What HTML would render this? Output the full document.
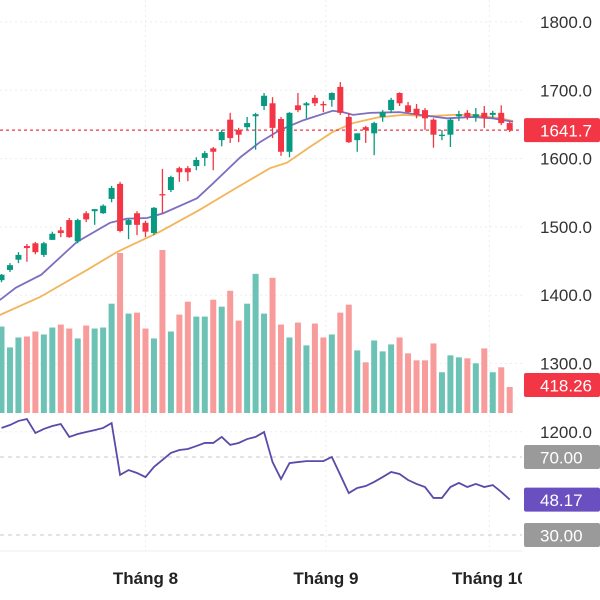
<!DOCTYPE html>
<html><head><meta charset="utf-8">
<style>
html,body{margin:0;padding:0;background:#fff;width:600px;height:600px;overflow:hidden}
svg{display:block;font-family:"Liberation Sans",sans-serif}
</style></head>
<body>
<svg id="chart" width="600" height="600">
  <defs><clipPath id="plotclip"><rect x="0" y="0" width="522" height="600"/></clipPath></defs>
  <g id="grid"></g>
  <g id="vol" clip-path="url(#plotclip)"></g>
  <g id="ma" clip-path="url(#plotclip)"></g>
  <g id="candles" clip-path="url(#plotclip)"></g>
  <g id="rsi" clip-path="url(#plotclip)"></g>
  <g id="axes"></g>
</svg>
<script>
const opens=[1422,1437,1452,1472,1476,1459,1481,1495,1510,1479,1520,1523,1520,1541,1563,1503,1520,1506,1491,1548,1554,1586,1586,1589,1601,1615,1627,1657,1642,1646,1662,1677,1681,1658,1610,1678,1678,1689,1680,1686,1705,1661,1627,1646,1637,1661,1671,1696,1678,1673,1671,1657,1633,1635,1662,1667,1661,1667,1664,1667,1652];
const closes=[1430,1444,1459,1469,1463,1476,1490,1491,1485,1510,1511,1526,1531,1557,1494,1510,1503,1493,1528,1547,1573,1580,1580,1598,1608,1610,1639,1630,1635,1652,1665,1692,1645,1610,1667,1671,1681,1681,1678,1696,1667,1624,1637,1642,1652,1668,1686,1681,1668,1664,1659,1635,1635,1657,1665,1661,1665,1659,1667,1652,1641.7];
const highs=[1431,1447,1463,1475,1478,1478,1493,1500,1513,1512,1523,1526,1533,1560,1566,1512,1523,1509,1529,1585,1575,1588,1589,1602,1611,1617,1642,1667,1645,1661,1667,1696,1690,1661,1668,1696,1683,1693,1684,1697,1712,1667,1637,1648,1654,1671,1689,1697,1683,1680,1674,1659,1642,1659,1670,1671,1674,1677,1670,1678,1655];
const lows=[1419,1434,1447,1449,1460,1456,1481,1485,1484,1476,1507,1503,1519,1536,1492,1482,1488,1485,1488,1520,1551,1566,1567,1583,1589,1583,1618,1623,1624,1642,1613,1671,1630,1604,1602,1668,1659,1677,1668,1676,1664,1623,1610,1623,1605,1654,1667,1677,1667,1659,1642,1616,1627,1617,1655,1657,1654,1645,1659,1649,1639];
const volumes=[1392,1056,1216,1232,1312,1264,1376,1424,1360,1200,1408,1360,1376,1760,2576,1600,1616,1360,1200,2624,1312,1584,1792,1552,1552,1824,1712,1968,1488,1760,2240,1600,2176,1424,1216,1456,1088,1440,1216,1264,1616,1744,1008,816,1168,992,1104,1216,960,848,848,1120,656,928,896,880,800,1040,656,736,418.26];
const rsiValues=[84.9,86.4,88.5,89.5,82.3,84.4,85.9,86.9,80.3,81.8,82.8,83.8,84.9,87.4,60.8,63.3,61.8,59.7,64.9,68.5,72.1,73.6,74.1,75.6,77.2,77.2,80.3,76.2,77.2,79.2,80.3,82.8,67.4,58.7,66.9,67.4,67.9,67.9,67.9,70.0,60.8,51.5,54.1,55.1,57.2,59.7,62.3,61.3,58.2,56.2,54.6,49.0,49.0,54.6,56.7,54.6,56.2,54.6,55.6,52.1,48.17];
const maFastIdx=[-0.2,1.7,4.7,8.9,12.8,14.8,17.2,19.1,23.1,25,28.2,30.5,32.9,35.6,39.1,40.3,41.5,43.5,47,49.4,52.6,55.7,58,60.4];
const maFastVal=[1393,1411,1430,1478,1506,1512,1513,1520,1542,1564,1602,1624,1642,1656,1670,1668,1664,1667,1668,1664,1659,1661,1659,1654];
const maSlowIdx=[-0.2,4.5,10.1,13.6,18.7,23.4,27.3,31.7,33.7,36.4,39.1,41.5,44.3,47.4,50.2,53.3,55.7,58.9,60.4];
const maSlowVal=[1371,1397,1437,1463,1493,1525,1554,1586,1594,1617,1639,1652,1660,1664,1662,1664,1664,1659,1655];
const priceTicks=[1800,1700,1600,1500,1400,1300,1200];
const monthLabels=["Tháng 8","Tháng 9","Tháng 10"];
const monthIdx=[17,38.3,57.6];
const lastPrice=1641.7, lastVolume=418.26, lastRsi=48.17;

const NS="http://www.w3.org/2000/svg";
const xs=i=>i*8.47+1.5;
const yp=p=>22+(1800-p)*0.683;
const volBase=413, volScale=1/16.1;
const yv=v=>volBase-v*volScale;
const yr=r=>457+(70-r)*1.95;
const UP="#089981", DN="#f23645", UPV="#6cc2b4", DNV="#f89b9b";
function mk(tag,attrs,parent){const e=document.createElementNS(NS,tag);for(const k in attrs)e.setAttribute(k,attrs[k]);parent.appendChild(e);return e;}
const gGrid=document.getElementById('grid'),gVol=document.getElementById('vol'),gMa=document.getElementById('ma'),gC=document.getElementById('candles'),gR=document.getElementById('rsi'),gA=document.getElementById('axes');

priceTicks.forEach(p=>{
  const l=mk('line',{x1:0,x2:522,y1:yp(p),y2:yp(p),stroke:"#eceef2","stroke-dasharray":"2,3"},gGrid);
  
  
  const t=mk('text',{x:540,y:yp(p)+6,"font-size":17,fill:"#333"},gA);
  t.textContent=p.toFixed(1);
  
  
});
monthIdx.forEach((m,k)=>{
  const l=mk('line',{x1:xs(m),x2:xs(m),y1:0,y2:551,stroke:"#eceef2","stroke-dasharray":"2,3"},gGrid);
  
  
});

volumes.forEach((v,i)=>{
  const up=closes[i]>=opens[i];
  const r=mk('rect',{x:xs(i)-3,y:yv(v),width:6,height:volBase-yv(v),fill:up?UPV:DNV},gVol);
  
  
});

function poly(idx,val,color,name){
  const pts=idx.map((d,k)=>xs(d)+","+yp(val[k])).join(" ");
  const p=mk('polyline',{points:pts,fill:"none",stroke:color,"stroke-width":1.8},gMa);
  
  
}
poly(maSlowIdx,maSlowVal,"#f2b55b","ma-slow-line");
poly(maFastIdx,maFastVal,"#7e6fbf","ma-fast-line");

const pl=mk('line',{x1:0,x2:528,y1:yp(lastPrice),y2:yp(lastPrice),stroke:DN,"stroke-width":1.3,"stroke-dasharray":"3,3"},gC);



opens.forEach((o,i)=>{
  const c=closes[i],up=c>=o,col=up?UP:DN,x=xs(i);
  const w=mk('line',{x1:x,x2:x,y1:yp(highs[i]),y2:yp(lows[i]),stroke:col,"stroke-width":1.3},gC);
  
  
  const top=yp(Math.max(o,c)),bot=yp(Math.min(o,c));
  const b=mk('rect',{x:x-3,y:top,width:6,height:Math.max(1.3,bot-top),fill:col},gC);
  
  
});

[70,30].forEach(v=>{
  const l=mk('line',{x1:0,x2:522,y1:yr(v),y2:yr(v),stroke:"#c8c8c8","stroke-dasharray":"4,4"},gR);
  
  
});
const rp=mk('polyline',{points:rsiValues.map((r,i)=>xs(i)+","+yr(r)).join(" "),fill:"none",stroke:"#5b4aa8","stroke-width":1.8},gR);



const sep=mk('line',{x1:0,x2:522,y1:551,y2:551,stroke:"#eeeeee","stroke-width":1},gA);



monthLabels.forEach((m,k)=>{
  const t=mk('text',{x:xs(monthIdx[k]),y:584,"font-size":17,"font-weight":"bold",fill:"#222","text-anchor":"middle","clip-path":"url(#plotclip)"},gA);
  t.textContent=m;
  
  
});

function tag(yc,txt,bg,name){
  const g=mk('g',{},gA);
  
  
  mk('rect',{x:524,y:yc-12,width:76,height:24,rx:2,fill:bg},g);
  const t=mk('text',{x:540,y:yc+6.5,"font-size":17,fill:"#fff"},g);
  t.textContent=txt;
}
tag(yp(lastPrice),lastPrice.toFixed(1),DN,"last-price-label");
tag(yv(volumes[volumes.length-1])-2,lastVolume.toFixed(2),DN,"last-volume-label");
tag(yr(70),"70.00","#9a9a9a","rsi-70-label");
tag(yr(lastRsi),lastRsi.toFixed(2),"#6a4fc0","rsi-value-label");
tag(yr(30),"30.00","#9a9a9a","rsi-30-label");
</script>
</body></html>
